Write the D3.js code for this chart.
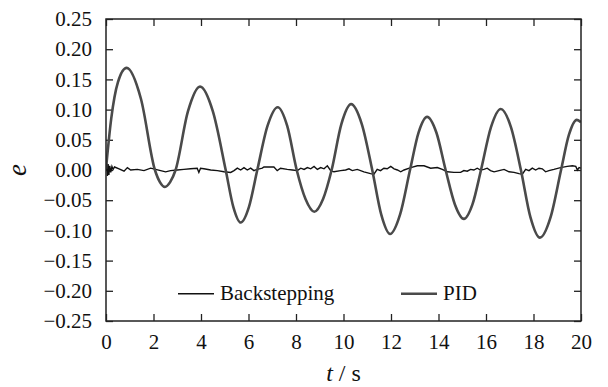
<!DOCTYPE html>
<html>
<head>
<meta charset="utf-8">
<script src="https://cdn.jsdelivr.net/npm/d3@7"></script>
<style>
  body { margin: 0; background: #fff; }
  svg text { font-family: "Liberation Serif", "DejaVu Serif", "Noto Serif", "Times New Roman", Times, serif; fill: #111; }
</style>
</head>
<body>
<svg id="chart" width="608" height="387"></svg>
<script>
const FONT = '"Liberation Serif", "DejaVu Serif", "Noto Serif", "Times New Roman", Times, serif';

// tick values
const xTicks = [0, 2, 4, 6, 8, 10, 12, 14, 16, 18, 20];
const yTicks = [-0.25, -0.20, -0.15, -0.10, -0.05, 0, 0.05, 0.10, 0.15, 0.20, 0.25];
const seriesNames = ['Backstepping', 'PID'];

// PID error: [t, e] (extrema, zero crossings and flanks)
const pidPoints = [
    [0, 0.002], [0.22, 0.085], [0.50, 0.145], [0.87, 0.169],
    [1.47, 0.118], [2.06, 0], [2.27, -0.020], [2.48, -0.028], [2.70, -0.020], [2.93, 0],
    [3.45, 0.097], [3.96, 0.138], [4.50, 0.097], [5.04, 0],
    [5.36, -0.061], [5.67, -0.087], [6.02, -0.061], [6.37, 0],
    [6.80, 0.073], [7.23, 0.104], [7.63, 0.073], [8.03, 0],
    [8.40, -0.048], [8.77, -0.069], [9.14, -0.048], [9.50, 0],
    [9.91, 0.076], [10.32, 0.109], [10.77, 0.076], [11.21, 0],
    [11.59, -0.074], [11.96, -0.106], [12.38, -0.074], [12.80, 0],
    [13.16, 0.062], [13.52, 0.088], [13.91, 0.062], [14.30, 0],
    [14.69, -0.057], [15.07, -0.081], [15.43, -0.057], [15.79, 0],
    [16.21, 0.071], [16.62, 0.101], [17.05, 0.071], [17.47, 0],
    [17.87, -0.078], [18.27, -0.112], [18.72, -0.078], [19.16, 0],
    [19.49, 0.058], [19.82, 0.083], [20, 0.079]
];

// Backstepping error: [t, e]
const bsPoints = [
    [0, 0], [0.03, 0.012], [0.06, -0.010], [0.09, 0.010], [0.12, -0.008],
    [0.16, 0.007], [0.20, -0.004], [0.25, 0.006], [0.30, 0.001], [0.36, 0.005],
    [0.55, 0.002], [0.76, -0.002], [0.90, 0.004], [1.04, 0], [1.32, 0.001],
    [1.60, -0.001], [1.88, 0.003], [2.09, 0.001], [2.30, -0.001], [2.51, -0.003],
    [2.72, -0.001], [3.00, 0], [3.28, 0.001], [3.56, 0.002], [3.84, 0.003],
    [3.91, -0.004], [3.98, 0.003], [4.12, 0.002], [4.41, 0], [4.69, -0.001],
    [4.97, -0.003], [5.25, -0.004], [5.39, -0.001], [5.53, 0.003], [5.67, 0],
    [5.81, 0.004], [5.95, 0], [6.09, 0.003], [6.23, -0.001], [6.37, 0.001],
    [6.58, 0.003], [6.65, 0.005], [7.07, 0.005], [7.21, -0.001], [7.35, 0.003],
    [7.63, 0.001], [7.85, 0], [8.06, -0.001], [8.20, 0.003], [8.34, 0.001],
    [8.48, 0.004], [8.62, 0.002], [8.76, 0.006], [8.90, 0.001], [9.04, 0.004],
    [9.18, 0.002], [9.32, 0.007], [9.46, -0.001], [9.60, -0.003], [9.88, -0.001],
    [10.09, 0], [10.23, 0.002], [10.37, -0.001], [10.58, 0.001], [10.86, -0.003],
    [11.14, -0.006], [11.28, -0.007], [11.42, 0.001], [11.56, -0.001], [11.70, 0.003],
    [11.84, 0.002], [11.99, 0.006], [12.13, 0.002], [12.27, 0], [12.41, -0.003],
    [12.55, 0], [12.83, 0.004], [13.11, 0.007], [13.39, 0.007], [13.67, 0.003],
    [13.95, 0.004], [14.16, 0.001], [14.37, -0.003], [14.65, -0.004], [14.93, -0.004],
    [15.07, -0.001], [15.21, -0.002], [15.35, 0.001], [15.49, 0], [15.63, 0.003],
    [15.77, 0], [15.91, 0.001], [16.05, 0.003], [16.19, -0.001], [16.34, -0.003],
    [16.55, -0.001], [16.76, 0.001], [16.97, -0.003], [17.18, -0.004], [17.39, -0.006],
    [17.53, -0.007], [17.67, 0.001], [17.81, -0.001], [17.95, 0.003], [18.09, 0],
    [18.23, 0.003], [18.37, 0.002], [18.51, -0.003], [18.65, -0.001], [18.86, 0.001],
    [19.14, 0.004], [19.42, 0.006], [19.64, 0.007], [19.78, 0.006], [19.85, 0],
    [19.92, 0.004], [20, 0.003]
];

const margin = { top: 19, right: 27, bottom: 66, left: 106 };
const width = 608 - margin.left - margin.right;
const height = 387 - margin.top - margin.bottom;

const svg = d3.select('#chart');
const chart = svg.append('g')
    .attr('transform', `translate(${margin.left}, ${margin.top})`);

const xScale = d3.scaleLinear().domain([0, 20]).range([0, width]);
const yScale = d3.scaleLinear().domain([-0.25, 0.25]).range([height, 0]);

const tickLen = 7;

// axes: ticks point inward on all four sides
const xAxis = d3.axisBottom(xScale).tickValues(xTicks).tickSizeInner(-tickLen).tickSizeOuter(0)
    .tickPadding(tickLen + 6).tickFormat(d3.format('d'));
const yAxis = d3.axisLeft(yScale).tickValues(yTicks).tickSizeInner(-tickLen).tickSizeOuter(0)
    .tickPadding(tickLen + 7).tickFormat(d => d3.format('.2f')(d).replace('-', '\u2212'));
const xTop = d3.axisTop(xScale).tickValues(xTicks).tickSizeInner(-tickLen).tickSizeOuter(0).tickFormat('');
const yRight = d3.axisRight(yScale).tickValues(yTicks).tickSizeInner(-tickLen).tickSizeOuter(0).tickFormat('');

function styleAxis(g) {
    g.attr('font-family', FONT);
    g.select('.domain').remove();
    g.selectAll('line').attr('stroke', '#222').attr('stroke-width', 1.3);
    g.selectAll('text').attr('font-size', 21).attr('fill', '#111')
        .attr('font-family', FONT);
}

chart.append('g').attr('transform', `translate(0, ${height})`).call(xAxis).call(styleAxis);
chart.append('g').call(yAxis).call(styleAxis);
chart.append('g').call(xTop).call(styleAxis);
chart.append('g').attr('transform', `translate(${width}, 0)`).call(yRight).call(styleAxis);

// lines
chart.append('clipPath').attr('id', 'plotclip')
    .append('rect').attr('width', width).attr('height', height);

const pidLine = d3.line()
    .x(d => xScale(d[0]))
    .y(d => yScale(d[1]))
    .curve(d3.curveMonotoneX);

const bsLine = d3.line()
    .x(d => xScale(d[0]))
    .y(d => yScale(d[1]));

const plot = chart.append('g').attr('clip-path', 'url(#plotclip)');

plot.append('path')
    .datum(bsPoints)
    .attr('fill', 'none')
    .attr('stroke', '#111')
    .attr('stroke-width', 1.4)
    .attr('d', bsLine);

plot.append('path')
    .datum(pidPoints)
    .attr('fill', 'none')
    .attr('stroke', '#4a4a4a')
    .attr('stroke-width', 2.6)
    .attr('d', pidLine);

// frame
chart.append('rect')
    .attr('width', width).attr('height', height)
    .attr('fill', 'none').attr('stroke', '#222').attr('stroke-width', 1.5);

// legend
const legend = chart.append('g').attr('transform', `translate(0, ${yScale(-0.205)})`);
const legendItems = [
    { name: seriesNames[0], x: 72, color: '#111', w: 1.4 },
    { name: seriesNames[1], x: 295, color: '#4a4a4a', w: 2.6 }
];
legendItems.forEach(item => {
    legend.append('line')
        .attr('x1', item.x).attr('x2', item.x + 36)
        .attr('stroke', item.color).attr('stroke-width', item.w);
    legend.append('text')
        .attr('x', item.x + 42).attr('y', 6.5)
        .attr('font-size', 21)
        .attr('font-family', FONT)
        .text(item.name);
});

// axis titles
svg.append('text')
    .attr('x', margin.left + width / 2)
    .attr('y', 381)
    .attr('text-anchor', 'middle')
    .attr('font-size', 24)
    .attr('font-family', FONT)
    .html('<tspan font-style="italic">t</tspan> / s');

svg.append('text')
    .attr('transform', `translate(26, ${margin.top + yScale(0)}) rotate(-90)`)
    .attr('text-anchor', 'middle')
    .attr('font-size', 27)
    .attr('font-style', 'italic')
    .attr('font-family', FONT)
    .text('e');
</script>
</body>
</html>
